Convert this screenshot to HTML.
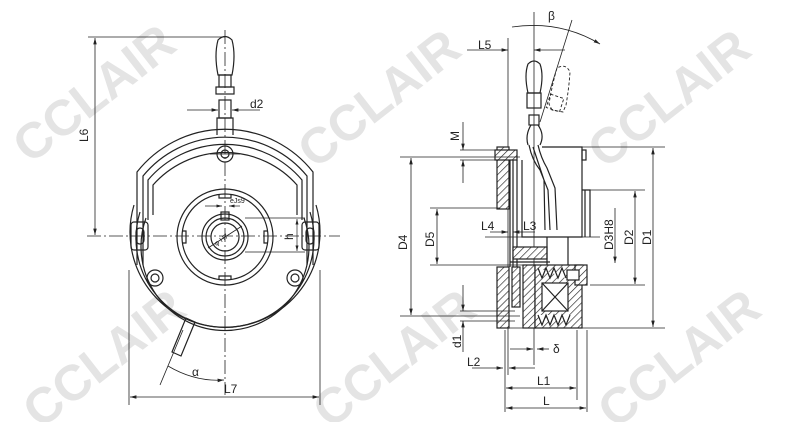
<!DOCTYPE html>
<html><head><meta charset="utf-8"><style>
html,body{margin:0;padding:0;background:#fff;}
svg{display:block;}
text{font-family:"Liberation Sans",sans-serif;fill:#222;}
g.wm text{font-family:"Liberation Sans",sans-serif;font-weight:bold;font-size:50px;fill:#e4e4e4;}
</style></head><body>
<svg width="797" height="422" viewBox="0 0 797 422" xmlns="http://www.w3.org/2000/svg">
<defs>
<pattern id="h" width="5" height="5" patternUnits="userSpaceOnUse" patternTransform="rotate(45)">
<rect width="5" height="5" fill="#fff"/><line x1="0" y1="0" x2="0" y2="5" stroke="#222" stroke-width="1.3"/></pattern>
<marker id="a" markerWidth="8" markerHeight="6" refX="8" refY="3" orient="auto-start-reverse"><path d="M0,0.8 L8,3 L0,5.2z" fill="#222"/></marker>
</defs>
<!-- watermarks -->
<g class="wm">
<text transform="translate(30,165) rotate(-38)">CCLAIR</text>
<text transform="translate(315,170) rotate(-38)">CCLAIR</text>
<text transform="translate(605,170) rotate(-38)">CCLAIR</text>
<text transform="translate(40,430) rotate(-38)">CCLAIR</text>
<text transform="translate(330,430) rotate(-38)">CCLAIR</text>
<text transform="translate(615,430) rotate(-38)">CCLAIR</text>
</g>
<g fill="none" stroke="#222" stroke-width="1.2">
<!-- LEFT VIEW -->
<line x1="87" y1="236" x2="340" y2="236" stroke-width="0.8" stroke-dasharray="14,3,2,3"/>
<line x1="225" y1="30" x2="225" y2="395" stroke-width="0.8" stroke-dasharray="14,3,2,3"/>
<path d="M134,205 A95,95 0 1 0 316,205"/>
<path d="M140,212 A89,89 0 1 0 310,212"/>
<path d="M146,218 A84,84 0 1 0 304,218"/>
<path d="M137,265 L137,172 A112,112 0 0 1 313,172 L313,265"/>
<path d="M143,265 L143,176 A106,106 0 0 1 307,176 L307,265"/>
<path d="M148,220 L148,180 A101,101 0 0 1 302,180 L302,220"/>
<path d="M153,215 L153,185 A96,96 0 0 1 297,185 L297,215"/>
<rect x="131" y="222" width="17" height="28" rx="3"/>
<rect x="136" y="228" width="8" height="16" rx="4"/>
<rect x="302" y="222" width="17" height="28" rx="3"/>
<rect x="306" y="228" width="8" height="16" rx="4"/>
<path d="M217,135 L217,118 L233,118 L233,135"/>
<rect x="219" y="100" width="12" height="18"/>
<path d="M218,75 Q214,55 218,40 Q225,33 232,40 Q236,55 232,75 Z"/>
<rect x="219" y="75" width="12" height="12"/>
<rect x="216" y="87" width="18" height="7"/>
<circle cx="225" cy="154" r="8"/><circle cx="225" cy="154" r="4"/>
<circle cx="155" cy="278" r="8"/><circle cx="155" cy="278" r="4"/>
<circle cx="295" cy="278" r="8"/><circle cx="295" cy="278" r="4"/>
<line x1="210" y1="154" x2="240" y2="154" stroke-width="0.7"/>
<circle cx="225" cy="237" r="48"/>
<circle cx="225" cy="237" r="43"/>
<path d="M219,194 v4 h12 v-4 M219,280 v-4 h12 v4 M182,231 h4 v12 h-4 M268,231 h-4 v12 h4" />
<circle cx="225" cy="237" r="23"/>
<circle cx="225" cy="237" r="19"/>
<circle cx="225" cy="237" r="14"/>
<rect x="221" y="212" width="8" height="8"/>
<line x1="208" y1="248" x2="242" y2="226" stroke-width="0.8"/>
<path d="M172,352 L186,318 L195,322 L181,356 Z"/>
<line x1="88" y1="37" x2="225" y2="37" stroke-width="0.8"/>
<line x1="95" y1="38" x2="95" y2="235" stroke-width="0.8" marker-start="url(#a)" marker-end="url(#a)"/>
<line x1="187" y1="110" x2="218" y2="110" stroke-width="0.8" marker-end="url(#a)"/>
<line x1="260" y1="110" x2="232" y2="110" stroke-width="0.8" marker-end="url(#a)"/>
<line x1="205" y1="206" x2="222" y2="206" stroke-width="0.7" marker-end="url(#a)"/>
<line x1="240" y1="206" x2="229" y2="206" stroke-width="0.7" marker-end="url(#a)"/>
<line x1="245" y1="218" x2="305" y2="218" stroke-width="0.7"/>
<line x1="245" y1="252" x2="305" y2="252" stroke-width="0.7"/>
<line x1="297" y1="219" x2="297" y2="251" stroke-width="0.7" marker-start="url(#a)" marker-end="url(#a)"/>
<line x1="129" y1="270" x2="129" y2="405" stroke-width="0.8"/>
<line x1="320" y1="270" x2="320" y2="405" stroke-width="0.8"/>
<line x1="130" y1="397" x2="319" y2="397" stroke-width="0.8" marker-start="url(#a)" marker-end="url(#a)"/>
<line x1="160" y1="385" x2="183" y2="330" stroke-width="0.8"/>
<path d="M168,366 Q195,382 224,380" stroke-width="0.8" marker-end="url(#a)"/>

<!-- RIGHT VIEW -->
<line x1="534" y1="12" x2="534" y2="365" stroke-width="0.8"/>
<line x1="508" y1="38" x2="508" y2="375" stroke-width="0.8"/>
<line x1="505" y1="330" x2="505" y2="412" stroke-width="0.8"/>
<line x1="587" y1="330" x2="587" y2="412" stroke-width="0.8"/>
<line x1="577" y1="330" x2="577" y2="400" stroke-width="0.8"/>
<line x1="572" y1="20" x2="540" y2="122" stroke-width="0.8"/>
<path d="M512,27 Q560,20 600,44" stroke-width="0.8" marker-end="url(#a)"/>
<line x1="467" y1="50" x2="508" y2="50" stroke-width="0.8" marker-end="url(#a)"/>
<line x1="565" y1="50" x2="534" y2="50" stroke-width="0.8" marker-end="url(#a)"/>
<path d="M528,93 Q524,75 528,64 Q534,58 540,64 Q544,75 540,93 Z"/>
<rect x="527" y="93" width="14" height="15"/>
<rect x="529" y="115" width="10" height="10"/>
<path d="M531,125 Q525,135 528,145 M538,125 Q545,135 540,145"/>
<path d="M529,145 Q532,160 540,170 L548,190 L550,230 M538,145 Q541,158 547,168 L555,188 L557,230 M533,147 L544,180 L545,230"/>
<g stroke-dasharray="3,2" stroke-width="0.9"><path d="M552,110 L549,104 Q552,85 557,68 Q566,63 570,72 Q569,88 566,105 L563,112 Z"/><rect x="548" y="96" width="14" height="14" transform="rotate(18 555 103)"/></g>
<rect x="497" y="147" width="12" height="62" fill="url(#h)"/>
<rect x="497" y="267" width="12" height="61" fill="url(#h)"/>
<rect x="495" y="150" width="22" height="10" fill="url(#h)"/>
<line x1="510" y1="160" x2="510" y2="267"/><line x1="513" y1="160" x2="513" y2="267"/><line x1="517" y1="160" x2="517" y2="267"/>
<path d="M542,147 L582,147 L582,237 L522,237 L522,160"/>
<rect x="582" y="150" width="4" height="10"/>
<path d="M582,190 L590,190 L590,237"/>
<line x1="585" y1="190" x2="585" y2="237"/>
<rect x="513" y="247" width="34" height="12" fill="url(#h)"/>
<line x1="510" y1="262" x2="550" y2="262"/>
<line x1="547" y1="237" x2="547" y2="265"/>
<line x1="568" y1="237" x2="568" y2="265"/>
<rect x="523" y="265" width="12" height="63" fill="url(#h)"/>
<rect x="512" y="267" width="8" height="40" fill="url(#h)"/>
<rect x="535" y="265" width="47" height="63" fill="url(#h)"/>
<rect x="542" y="283" width="26" height="28" fill="#fff"/>
<path d="M542,283 L568,311 M568,283 L542,311"/>
<path d="M538,268 l4,10 l4,-10 l4,10 l4,-10 l4,10 l4,-10 l4,10" fill="#fff"/>
<path d="M538,315 l4,10 l4,-10 l4,10 l4,-10 l4,10 l4,-10 l4,10 l4,-10" fill="#fff"/>
<rect x="575" y="265" width="12" height="20" fill="url(#h)"/>
<rect x="567" y="270" width="12" height="10" fill="#fff"/>
<g stroke-width="0.8">
<line x1="542" y1="147" x2="665" y2="147"/>
<line x1="400" y1="157" x2="520" y2="157"/>
<line x1="430" y1="208" x2="500" y2="208"/>
<line x1="430" y1="265" x2="530" y2="265"/>
<line x1="400" y1="316" x2="520" y2="316"/>
<line x1="508" y1="328" x2="665" y2="328"/>
<line x1="590" y1="285" x2="645" y2="285"/>
<line x1="590" y1="190" x2="645" y2="190"/>
<line x1="485" y1="237" x2="600" y2="237"/>
<line x1="653" y1="148" x2="653" y2="327" marker-start="url(#a)" marker-end="url(#a)"/>
<line x1="635" y1="191" x2="635" y2="284" marker-start="url(#a)" marker-end="url(#a)"/>
<line x1="615" y1="208" x2="615" y2="263" marker-end="url(#a)"/>
<line x1="411" y1="158" x2="411" y2="315" marker-start="url(#a)" marker-end="url(#a)"/>
<line x1="437" y1="209" x2="437" y2="264" marker-start="url(#a)" marker-end="url(#a)"/>
<line x1="463" y1="122" x2="463" y2="150" marker-end="url(#a)"/>
<line x1="463" y1="183" x2="463" y2="160" marker-end="url(#a)"/>
<line x1="460" y1="150" x2="515" y2="150"/>
<line x1="460" y1="160" x2="515" y2="160"/>
<line x1="463" y1="285" x2="463" y2="311" marker-end="url(#a)"/>
<line x1="463" y1="352" x2="463" y2="321" marker-end="url(#a)"/>
<line x1="460" y1="311" x2="515" y2="311"/>
<line x1="460" y1="321" x2="515" y2="321"/>
<line x1="490" y1="232" x2="508" y2="232" marker-end="url(#a)"/>
<line x1="535" y1="232" x2="513" y2="232" marker-end="url(#a)"/>
<line x1="510" y1="349" x2="533" y2="349" marker-end="url(#a)"/>
<line x1="549" y1="349" x2="537" y2="349" marker-end="url(#a)"/>
<line x1="472" y1="368" x2="503" y2="368" marker-end="url(#a)"/>
<line x1="535" y1="368" x2="509" y2="368" marker-end="url(#a)"/>
<line x1="506" y1="388" x2="576" y2="388" marker-start="url(#a)" marker-end="url(#a)"/>
<line x1="506" y1="408" x2="586" y2="408" marker-start="url(#a)" marker-end="url(#a)"/>
</g>
</g>
<g font-size="12">
<text x="88" y="142" transform="rotate(-90 88 142)">L6</text>
<text x="250" y="108">d2</text>
<text x="224" y="393">L7</text>
<text x="192" y="376">α</text>
<text x="230" y="203" font-size="7">eJs9</text>
<text x="213" y="244" font-size="7" transform="rotate(-35 218 240)">φ H7</text>
<text x="293" y="240" transform="rotate(-90 293 240)">h</text>
<text x="548" y="20">β</text>
<text x="478" y="49">L5</text>
<text x="459" y="141" transform="rotate(-90 459 141)">M</text>
<text x="407" y="250" transform="rotate(-90 407 250)">D4</text>
<text x="434" y="247" transform="rotate(-90 434 247)">D5</text>
<text x="481" y="230">L4</text>
<text x="523" y="230">L3</text>
<text x="613" y="250" transform="rotate(-90 613 250)">D3H8</text>
<text x="633" y="245" transform="rotate(-90 633 245)">D2</text>
<text x="651" y="245" transform="rotate(-90 651 245)">D1</text>
<text x="461" y="348" transform="rotate(-90 461 348)">d1</text>
<text x="553" y="353">δ</text>
<text x="467" y="366">L2</text>
<text x="537" y="385">L1</text>
<text x="543" y="405">L</text>
</g>
</svg>
</body></html>
